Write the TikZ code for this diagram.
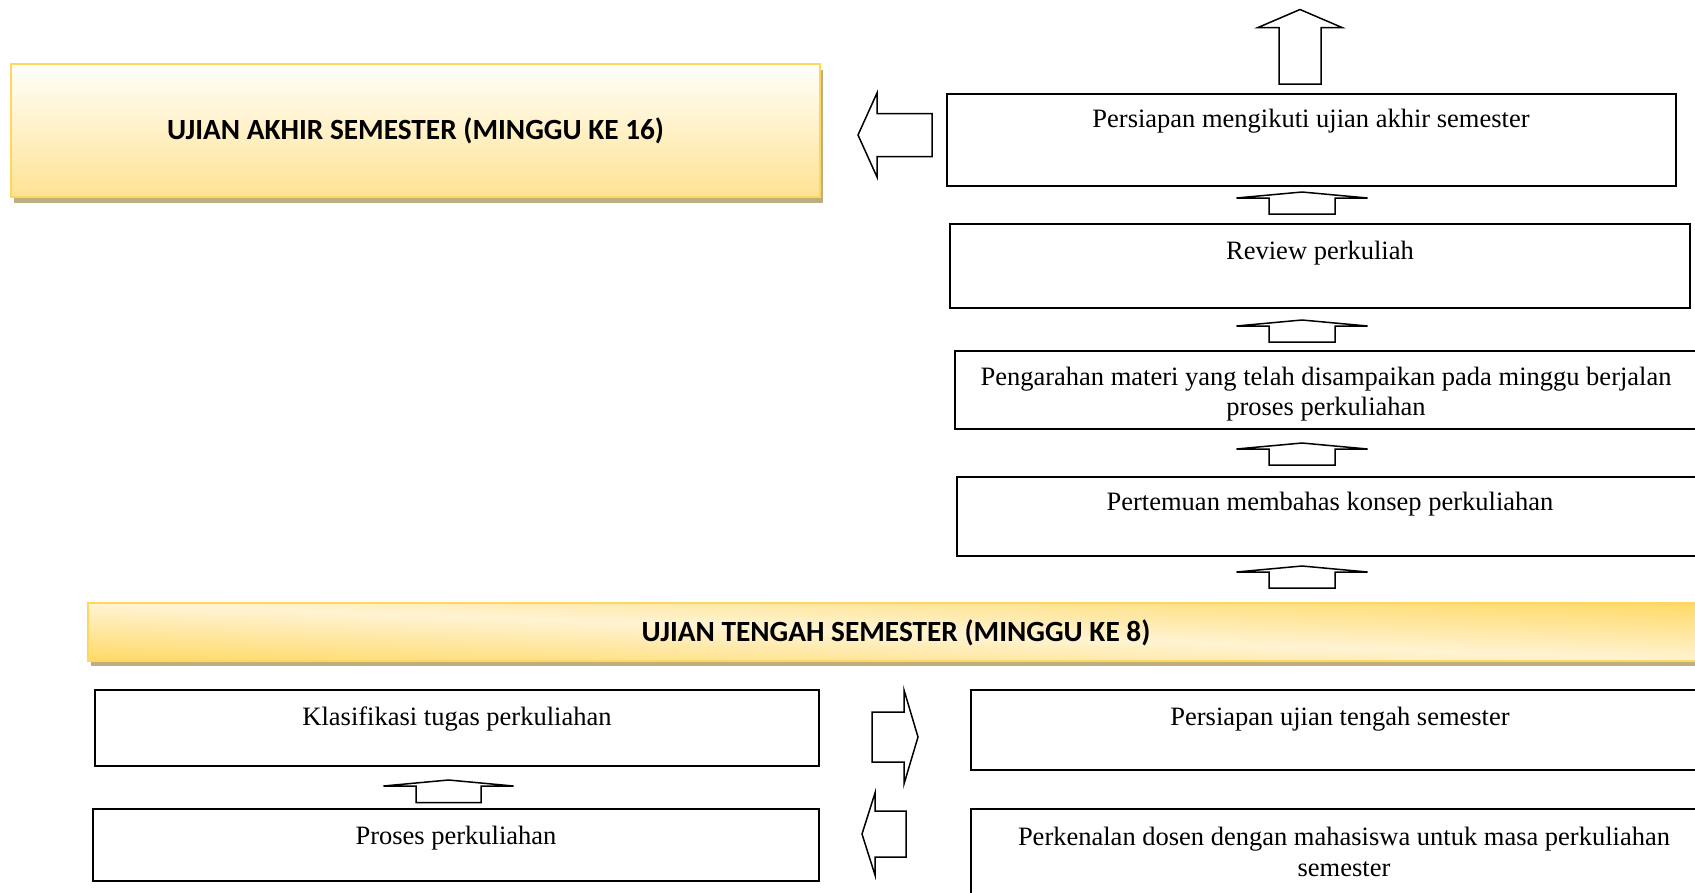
\documentclass[tikz,border=0pt]{standalone}
\usepackage{fontspec}
\setmainfont{Liberation Serif}
\newfontfamily\hdrfont{Carlito}
\definecolor{ylw}{HTML}{FFD966}
\definecolor{uastop}{HTML}{FFFEFA}
\definecolor{uasbot}{HTML}{FFE393}
\definecolor{bordery}{HTML}{FFD75E}
\definecolor{shadowc}{HTML}{BDAF80}
% light (FFF3D2) along the top-left / bottom-right diagonal, yellow (FFD966) towards bottom-left and top-right corners
\pgfdeclarefunctionalshading{utsshade}{\pgfpointorigin}{\pgfpoint{100bp}{100bp}}{}{
  75 exch sub 50 div exch 25 sub 50 div sub abs
  dup 1 gt {pop 1} if
  dup -0.102 mul 0.953 add exch -0.424 mul 0.824 add 1 3 1 roll
}
\tikzset{
  box/.style={draw=black, line width=1.6pt, rectangle, inner sep=0pt, outer sep=0pt},
  txt/.style={font=\fontsize{26.5}{30.5}\selectfont, inner sep=0pt, align=center},
  hdr/.style={font=\hdrfont\bfseries\fontsize{29.3}{33}\selectfont, inner sep=0pt},
  blk/.style={draw=black, line width=1.5pt, fill=white, line join=miter},
}
\newcommand\mkbox[5]{\node[box, anchor=north west, minimum width={#4-#2}, minimum height={#5-#3}] (#1) at (#2,#3) {};}
% cx, tip y, head base y, bottom y, head half width, body half width
\newcommand\blkup[6]{\draw[blk] (#1,#2) -- (#1+#5,#3) -- (#1+#6,#3) -- (#1+#6,#4) -- (#1-#6,#4) -- (#1-#6,#3) -- (#1-#5,#3) -- cycle;}
% tip x, centre y, head base x, tail x, head half height, body half height
\newcommand\blkh[6]{\draw[blk] (#1,#2) -- (#3,#2-#5) -- (#3,#2-#6) -- (#4,#2-#6) -- (#4,#2+#6) -- (#3,#2+#6) -- (#3,#2+#5) -- cycle;}
\begin{document}
\begin{tikzpicture}[x=1pt,y=-1pt]
\useasboundingbox (0,0) rectangle (1695,892);
\clip (0,0) rectangle (1695,892);
\fill[white] (0,0) rectangle (1695,892);

% UAS banner
\fill[shadowc] (14,70) rectangle (823,203);
\node[anchor=north west, minimum width=809, minimum height=133, draw=bordery, line width=1.5pt,
  top color=uastop, bottom color=uasbot, inner sep=0pt, outer sep=0pt] (uas) at (11,64) {};
\node[hdr] (uast) at (uas.center) {UJIAN AKHIR SEMESTER (MINGGU KE 16)};

% UTS banner
\fill[shadowc] (91,608) rectangle (1708,666);
\node[anchor=north west, minimum width=1617, minimum height=58, draw=bordery, line width=1.5pt,
  shading=utsshade, inner sep=0pt, outer sep=0pt] (uts) at (88,603) {};
\node[hdr] (utst) at (896,633) {UJIAN TENGAH SEMESTER (MINGGU KE 8)};

% boxes
\mkbox{b1}{947}{94}{1676}{186}
\node[txt] (t1) at (1311,121) {Persiapan mengikuti ujian akhir semester};
\mkbox{b2}{950}{224}{1690}{308}
\node[txt] (t2) at (1320,253) {Review perkuliah};
\mkbox{b3}{955}{351}{1698}{429}
\node[txt] (t3) at (1326,394) {Pengarahan materi yang telah disampaikan pada minggu berjalan\\proses perkuliahan};
\mkbox{b4}{957}{477}{1703}{556}
\node[txt] (t4) at (1330,504) {Pertemuan membahas konsep perkuliahan};
\mkbox{b5}{95}{690}{819}{766}
\node[txt] (t5) at (457,719) {Klasifikasi tugas perkuliahan};
\mkbox{b6}{93}{809}{819}{881}
\node[txt] (t6) at (456,838) {Proses perkuliahan};
\mkbox{b7}{971}{690}{1709}{770}
\node[txt] (t7) at (1340,719) {Persiapan ujian tengah semester};
\mkbox{b8}{971}{809}{1717}{905}
\node[txt] (t8) at (1344,852) {Perkenalan dosen dengan mahasiswa untuk masa perkuliahan\\semester};

% block arrows
\blkup{1300}{9.5}{27.5}{84}{42}{21}
\blkh{858}{135}{877}{932}{42}{21.5}
\blkup{1302}{192}{198}{214}{65.5}{33}
\blkup{1302}{320}{326}{342}{65.5}{33}
\blkup{1302}{443}{449}{465}{65.5}{33}
\blkup{1302}{566}{572}{588}{65.5}{33}
\blkup{448.5}{780}{786}{802.5}{65}{32.5}
\blkh{918}{737}{904}{872}{47}{25}
\blkh{862}{834}{875}{906}{41}{23}
\end{tikzpicture}
\end{document}
